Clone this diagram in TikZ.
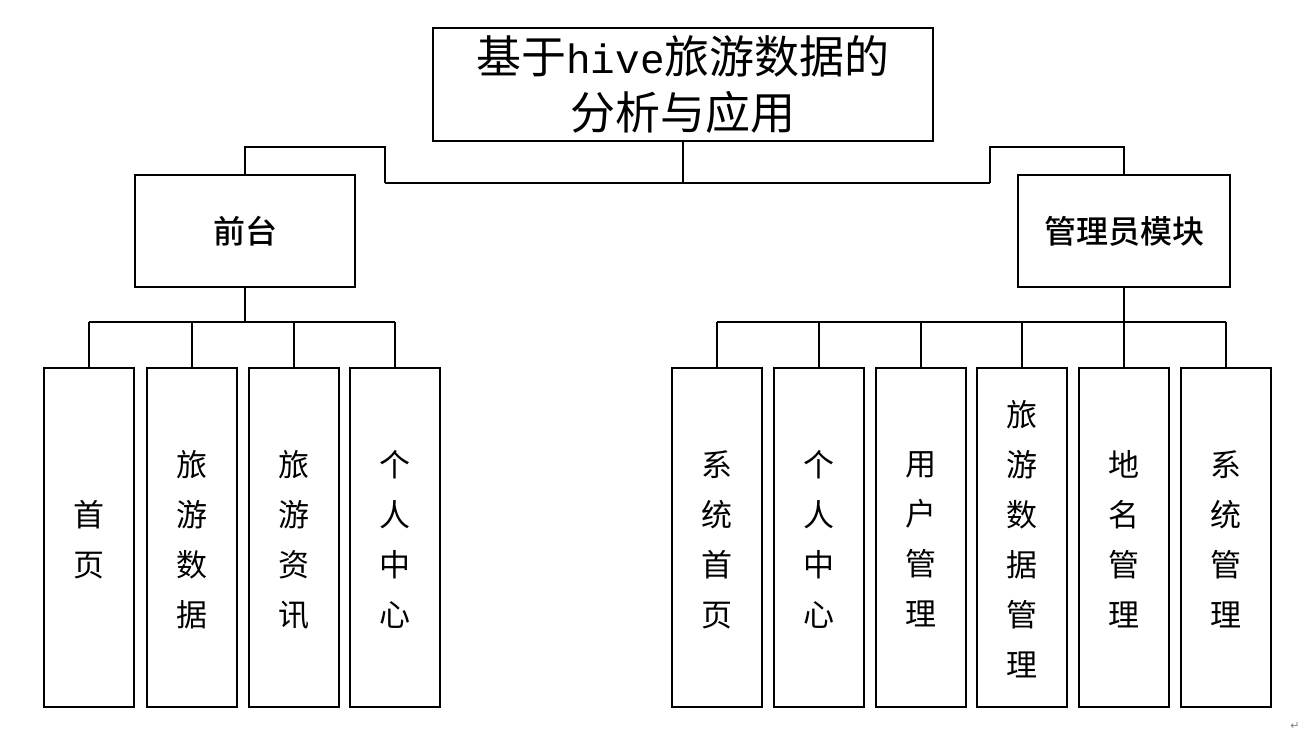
\documentclass[tikz,border=0pt]{standalone}
\usepackage{fontspec}
\setmainfont{Noto Sans CJK SC}
\newfontfamily\cjk{Noto Sans CJK SC}
\newfontfamily\cjkbold{Noto Sans CJK SC}[UprightFont=* Medium]
\newfontfamily\latinmono{Liberation Mono}
\newfontfamily\symfont{DejaVu Sans}
\begin{document}
\begin{tikzpicture}[x=1pt,y=-1pt,
  box/.style={draw,line width=2.6pt,inner sep=0pt,outer sep=0pt,anchor=north west},
  link/.style={line width=2.8pt,line join=miter},
  vtext/.style={align=center,font=\cjk\fontsize{31}{50}\selectfont}]
\useasboundingbox (0,0) rectangle (1314,751);
\fill[white] (0,0) rectangle (1314,751);

% root
\node[box,minimum width=500pt,minimum height=113pt] (root) at (433,28) {};
\node[align=center,font=\cjk\fontsize{45}{56}\selectfont] (roottext) at (683,84)
  {基于{\latinmono\fontsize{41}{56}\selectfont hive}旅游数据的\\分析与应用};

% second level
\node[box,minimum width=220pt,minimum height=112pt] (front) at (135,175) {};
\node[font=\cjkbold\fontsize{32}{40}\selectfont] at (front.center) {前台};
\node[box,minimum width=212pt,minimum height=112pt] (admin) at (1018,175) {};
\node[font=\cjkbold\fontsize{32}{40}\selectfont] at (admin.center) {管理员模块};

% connectors from root
\coordinate (split) at (root.south |- 0,183);
\draw[link] (root.south) -- (split);
\draw[link] (385,183) -- (990,183);
\draw[link] (385,183) -- (385,147) -| (front.north);
\draw[link] (990,183) -- (990,147) -| (admin.north);

% front-end children
\foreach \n/\x/\t in {f1/44/{首\\页},f2/147/{旅\\游\\数\\据},f3/249/{旅\\游\\资\\讯},f4/350/{个\\人\\中\\心}}{
  \node[box,minimum width=90pt,minimum height=339pt] (\n) at (\x,368) {};
  \node[vtext] at ([yshift=-2pt]\n.center) {\t};
}
\draw[link] (front.south) -- (front.south |- 0,322);
\draw[link] (f1.north |- 0,322) -- (f4.north |- 0,322);
\foreach \n in {f1,f2,f3,f4}{\draw[link] (\n.north |- 0,322) -- (\n.north);}

% admin children
\foreach \n/\x/\t in {a1/672/{系\\统\\首\\页},a2/774/{个\\人\\中\\心},a3/876/{用\\户\\管\\理},a4/977/{旅\\游\\数\\据\\管\\理},a5/1079/{地\\名\\管\\理},a6/1181/{系\\统\\管\\理}}{
  \node[box,minimum width=90pt,minimum height=339pt] (\n) at (\x,368) {};
  \node[vtext] at ([yshift=-2pt]\n.center) {\t};
}
\draw[link] (admin.south) -- (admin.south |- 0,322);
\draw[link] (a1.north |- 0,322) -- (a6.north |- 0,322);
\foreach \n in {a1,a2,a3,a4,a5,a6}{\draw[link] (\n.north |- 0,322) -- (\n.north);}

% paragraph mark
\node[text=gray,font=\symfont\fontsize{11}{12}\selectfont] (pmark) at (1295,726) {↵};
\end{tikzpicture}
\end{document}
